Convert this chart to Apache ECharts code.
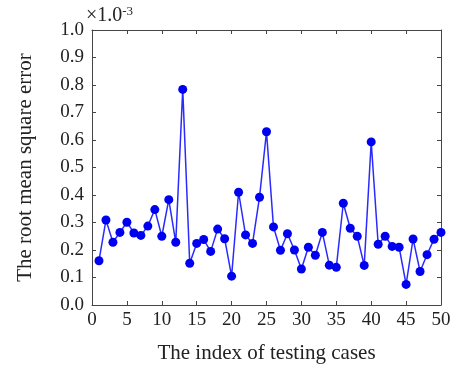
<!DOCTYPE html>
<html>
<head>
<meta charset="utf-8">
<script src="https://cdn.jsdelivr.net/npm/echarts@6/dist/echarts.min.js"></script>
<style>
  html, body { margin: 0; padding: 0; background: #fff; }
  #chart { width: 456px; height: 369px; }
</style>
</head>
<body>
<div id="chart"></div>
<script>
// RMSE per testing case, in units of 1e-3
const caseIndex = Array.from({ length: 50 }, (_, i) => i + 1);
const rmse = [
  0.161, 0.309, 0.228, 0.264, 0.301, 0.262, 0.253, 0.287, 0.347, 0.250,
  0.383, 0.228, 0.784, 0.152, 0.224, 0.238, 0.195, 0.276, 0.241, 0.105,
  0.410, 0.255, 0.224, 0.392, 0.630, 0.284, 0.199, 0.259, 0.200, 0.131,
  0.210, 0.181, 0.264, 0.145, 0.137, 0.370, 0.279, 0.250, 0.144, 0.593,
  0.221, 0.250, 0.213, 0.210, 0.075, 0.240, 0.122, 0.183, 0.239, 0.264
];
const xLabel = 'The index of testing cases';
const yLabel = 'The root mean square error';

const font = '"Liberation Serif", "Times New Roman", serif';
const axisColor = '#444';

const chart = echarts.init(document.getElementById('chart'));

const boxAxis = {
  axisLine: { show: true, onZero: false, lineStyle: { color: axisColor, width: 1 } },
  axisTick: { show: true, inside: true, length: 4, lineStyle: { color: axisColor } },
  splitLine: { show: false }
};

chart.setOption({
  animation: false,
  backgroundColor: '#fff',
  textStyle: { fontFamily: font },
  grid: { left: 92, right: 15, top: 30, bottom: 64 },
  graphic: [{
    type: 'text',
    left: 86,
    top: 5,
    style: {
      text: '{a|×1.0}{s|-3}',
      rich: {
        a: { fontFamily: font, fontSize: 20, fill: '#222', verticalAlign: 'bottom' },
        s: { fontFamily: font, fontSize: 13, fill: '#222', verticalAlign: 'top', padding: [0, 0, 8, 0] }
      }
    }
  }],
  xAxis: [{
    type: 'value', min: 0, max: 50, interval: 5,
    ...boxAxis,
    axisLabel: { color: '#222', fontSize: 19, fontFamily: font, margin: 6 },
    name: xLabel, nameLocation: 'middle', nameGap: 38,
    nameTextStyle: { color: '#222', fontSize: 21, fontFamily: font }
  }, {
    type: 'value', min: 0, max: 50, interval: 5, position: 'top',
    ...boxAxis, axisLabel: { show: false }
  }],
  yAxis: [{
    type: 'value', min: 0, max: 1, interval: 0.1,
    ...boxAxis,
    axisLabel: { color: '#222', fontSize: 19, fontFamily: font, margin: 8, formatter: v => v.toFixed(1) },
    name: yLabel, nameLocation: 'middle', nameGap: 56,
    nameTextStyle: { color: '#222', fontSize: 21, fontFamily: font }
  }, {
    type: 'value', min: 0, max: 1, interval: 0.1, position: 'right',
    ...boxAxis, axisLabel: { show: false }
  }],
  series: [{
    type: 'line',
    data: caseIndex.map((x, i) => [x, rmse[i]]),
    symbol: 'circle',
    symbolSize: 9,
    lineStyle: { color: '#2a2aff', width: 1.5 },
    itemStyle: { color: '#0000f0' }
  }]
});
</script>
</body>
</html>
